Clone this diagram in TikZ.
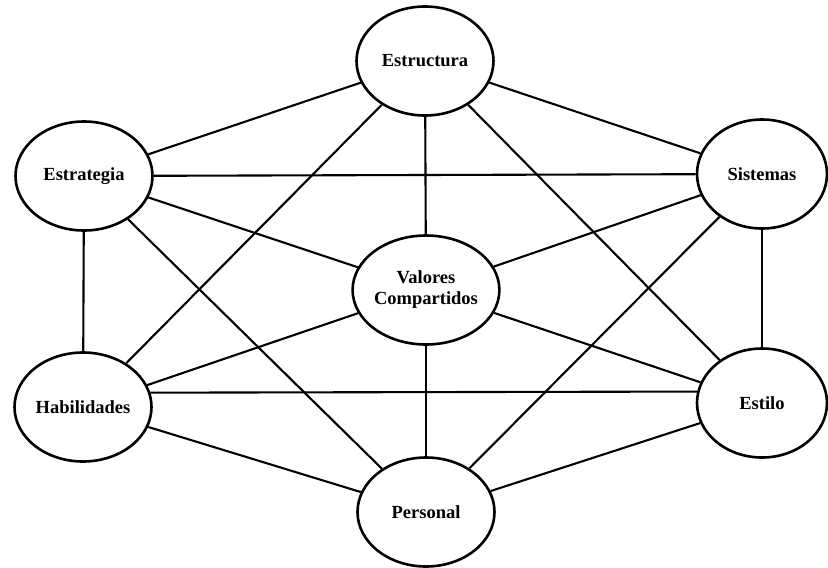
\documentclass[tikz,border=0pt]{standalone}
\usepackage{fontspec}
\setmainfont{Liberation Serif}
\usetikzlibrary{shapes.geometric}
\begin{document}
\begin{tikzpicture}[x=1pt,y=-1pt,
  oval/.style={ellipse, draw, line width=2.6pt, minimum width=137pt, minimum height=109pt,
    inner sep=0pt, align=center, font=\fontsize{18.5}{21}\selectfont\bfseries},
  link/.style={line width=2.1pt}]
\useasboundingbox (0,0) rectangle (828,568);
\node[oval] (estr) at (425,61) {Estructura};
\node[oval] (estg) at (84,176) {Estrategia};
\node[oval, minimum width=130pt] (sist) at (762,174) {Sistemas};
\node[oval] (val) at (426,290) {Valores\\Compartidos};
\node[oval] (hab) at (83,407) {Habilidades};
\node[oval, minimum width=130pt] (esti) at (762,403) {Estilo};
\node[oval] (pers) at (426,512) {Personal};
\draw[link] (estr) -- (estg);
\draw[link] (estr) -- (sist);
\draw[link] (estr) -- (val);
\draw[link] (estr) -- (hab);
\draw[link] (estr) -- (esti);
\draw[link] (estg) -- (sist);
\draw[link] (estg) -- (val);
\draw[link] (estg) -- (hab);
\draw[link] (estg) -- (pers);
\draw[link] (sist) -- (val);
\draw[link] (sist) -- (esti);
\draw[link] (sist) -- (pers);
\draw[link] (val) -- (hab);
\draw[link] (val) -- (esti);
\draw[link] (val) -- (pers);
\draw[link] (hab.12) -- (esti.170);
\draw[link] (hab) -- (pers);
\draw[link] (esti) -- (pers);
\end{tikzpicture}
\end{document}
